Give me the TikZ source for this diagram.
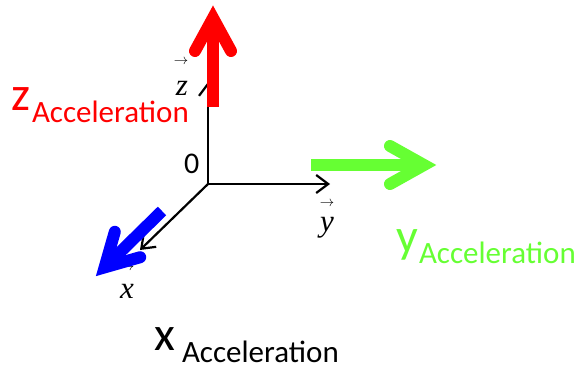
\documentclass[tikz,border=0pt]{standalone}
\usepackage{fontspec}
\setmainfont{Carlito}
\newfontfamily\axfont{Liberation Serif}
\usetikzlibrary{arrows.meta}
\definecolor{accred}{RGB}{255,0,0}
\definecolor{accgreen}{RGB}{102,255,51}
\definecolor{accblue}{RGB}{0,0,255}
\begin{document}
\begin{tikzpicture}[x=1pt,y=-1pt,
  axis/.style={black, line width=2.2pt, -{Straight Barb[length=12pt,width=18pt]}},
  shaft/.style={line width=12pt},
  head/.style={line width=12pt, line cap=round, line join=miter},
  big/.style={inner sep=0pt, outer sep=0pt, anchor=base west, font=\fontsize{48}{48}\selectfont},
  sub/.style={inner sep=0pt, outer sep=0pt, anchor=base west, font=\fontsize{31}{31}\selectfont},
  axlbl/.style={inner sep=0pt, outer sep=0pt, anchor=base, font=\fontsize{31}{31}\selectfont\axfont\itshape},
  vecarr/.style={inner sep=0pt, outer sep=0pt, font=\fontsize{14}{14}\selectfont}
]
\useasboundingbox (0,0) rectangle (580,369);
% axes
\coordinate (O) at (208,184);
\coordinate (Ztip) at (208,82);
\coordinate (Ytip) at (330,184);
\coordinate (Xtip) at (140,250);
\draw[axis] (O) -- (Ztip);
\draw[axis] (O) -- (Ytip);
\draw[axis] (O) -- (Xtip);
% axis labels
\node[inner sep=0pt, outer sep=0pt, anchor=base west, font=\fontsize{30}{30}\selectfont] (zero) at (184,173) {0};
\node[vecarr] (zarr) at (181,62) {$\rightarrow$};
\node[axlbl] (zl) at (182,95) {z};
\node[vecarr] (yarr) at (327,204) {$\rightarrow$};
\node[axlbl] (yl) at (327,231) {y};
\node[vecarr] (xarr) at (127,268) {$\rightarrow$};
\node[axlbl] (xl) at (127,298) {x};
% red arrow (z acceleration)
\coordinate (Rs) at (213,107);
\coordinate (Rv) at (213,18);
\coordinate (Rl) at (195,51);
\coordinate (Rr) at (231,51);
\draw[accred, shaft] (Rs) -- (213,24);
\draw[accred, head] (Rl) -- (Rv) -- (Rr);
% green arrow (y acceleration)
\coordinate (Gs) at (311,165);
\coordinate (Gv) at (424,165);
\coordinate (Gu) at (390,146);
\coordinate (Gd) at (390,184);
\draw[accgreen, shaft] (Gs) -- (418,165);
\draw[accgreen, head] (Gu) -- (Gv) -- (Gd);
% blue arrow (x acceleration)
\coordinate (Bs) at (162,211);
\coordinate (Bv) at (104.6,267.4);
\coordinate (Bu) at (114.8,231.8);
\coordinate (Bd) at (140.2,257.2);
\draw[accblue, shaft] (Bs) -- (109,263);
\draw[accblue, head] (Bu) -- (Bv) -- (Bd);
% acceleration labels
\node[big, text=accred] (zA) at (11,110) {z};
\node[sub, text=accred] (zAs) at (32,122) {Acceleration};
\node[big, text=accgreen] (yA) at (396,252) {y};
\node[sub, text=accgreen] (yAs) at (419,263) {Acceleration};
\node[big] (xA) at (154,350) {x};
\node[sub] (xAs) at (182,362) {Acceleration};
\end{tikzpicture}
\end{document}
